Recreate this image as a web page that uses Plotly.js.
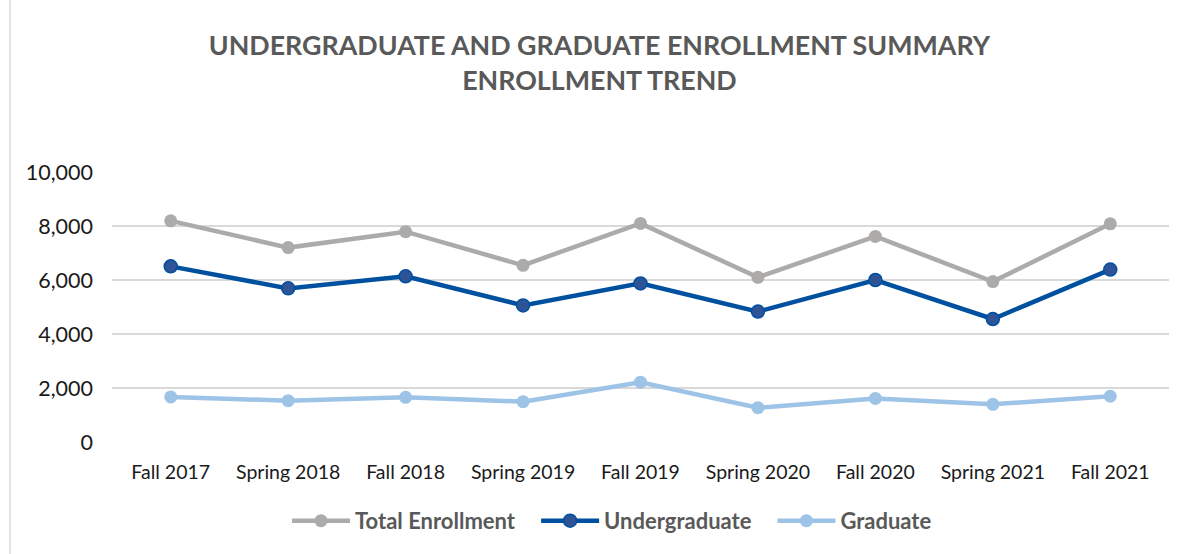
<!DOCTYPE html>
<html>
<head>
<meta charset="utf-8">
<script src="https://cdn.plot.ly/plotly-3.0.1.min.js"></script>
<style>html,body{margin:0;padding:0;background:#fff;}#chart{width:1180px;height:554px;}</style>
</head>
<body>
<div id="chart"></div>
<script>
const categories = ["Fall 2017","Spring 2018","Fall 2018","Spring 2019","Fall 2019","Spring 2020","Fall 2020","Spring 2021","Fall 2021"];
const totalEnrollment = [8190, 7200, 7790, 6545, 8095, 6100, 7615, 5940, 8080];
const undergraduate = [6505, 5690, 6135, 5060, 5875, 4830, 6000, 4555, 6385];
const graduate = [1670, 1530, 1655, 1495, 2215, 1270, 1615, 1395, 1695];
const seriesNames = ["Total Enrollment", "Undergraduate", "Graduate"];
const yTicks = [0, 2000, 4000, 6000, 8000, 10000];
const yTickLabels = ["0", "2,000", "4,000", "6,000", "8,000", "10,000"];

const font = "Lato, 'Open Sans', sans-serif";
const pad = "\u00a0\u00a0\u00a0";

const traces = [
  {x: categories, y: totalEnrollment, name: seriesNames[0] + pad, mode: "lines+markers",
   line: {color: "#ADAAAA", width: 4.5}, marker: {color: "#ADAAAA", size: 13}},
  {x: categories, y: undergraduate, name: seriesNames[1] + pad, mode: "lines+markers",
   line: {color: "#0050A0", width: 4.5}, marker: {color: "#2E5396", size: 13, line: {color: "#0050A0", width: 1.5}}},
  {x: categories, y: graduate, name: seriesNames[2], mode: "lines+markers",
   line: {color: "#9DC3E6", width: 4.5}, marker: {color: "#9DC3E6", size: 13}}
];

const layout = {
  width: 1180, height: 554,
  margin: {l: 112, r: 11, t: 172, b: 112},
  paper_bgcolor: "#fff", plot_bgcolor: "#fff",
  title: {
    text: "<b>UNDERGRADUATE AND GRADUATE ENROLLMENT SUMMARY<br>ENROLLMENT TREND</b>",
    font: {family: font, size: 26.8, color: "#595959"},
    x: 0.508, xanchor: "center", y: 0.901, yanchor: "middle"
  },
  xaxis: {
    type: "category", range: [-0.5, 8.5], showgrid: false, zeroline: false,
    showline: false, ticks: "", ticklabelstandoff: 16,
    tickfont: {family: font, size: 19.5, color: "#1a1a1a"},
    fixedrange: true
  },
  yaxis: {
    range: [0, 10000], tickvals: yTicks, ticktext: yTickLabels,
    showgrid: true, gridcolor: "#D9D9D9", gridwidth: 1.5, zeroline: false,
    showline: false, ticks: "", ticklabelstandoff: 18,
    tickfont: {family: font, size: 21.5, color: "#1a1a1a"}, fixedrange: true
  },
  showlegend: true,
  legend: {
    orientation: "h", x: 0.1656, xanchor: "left", y: -0.292, yanchor: "middle",
    font: {family: font, size: 22, color: "#595959", weight: "bold"},
    itemwidth: 58, tracegroupgap: 0
  },
  shapes: [
    {type: "line", xref: "paper", yref: "paper", x0: -0.0965, x1: -0.0965, y0: -0.5, y1: 1.7,
     line: {color: "#D9D9D9", width: 1.5}}
  ]
};

Plotly.newPlot("chart", traces, layout, {displayModeBar: false, staticPlot: true});
</script>
</body>
</html>
